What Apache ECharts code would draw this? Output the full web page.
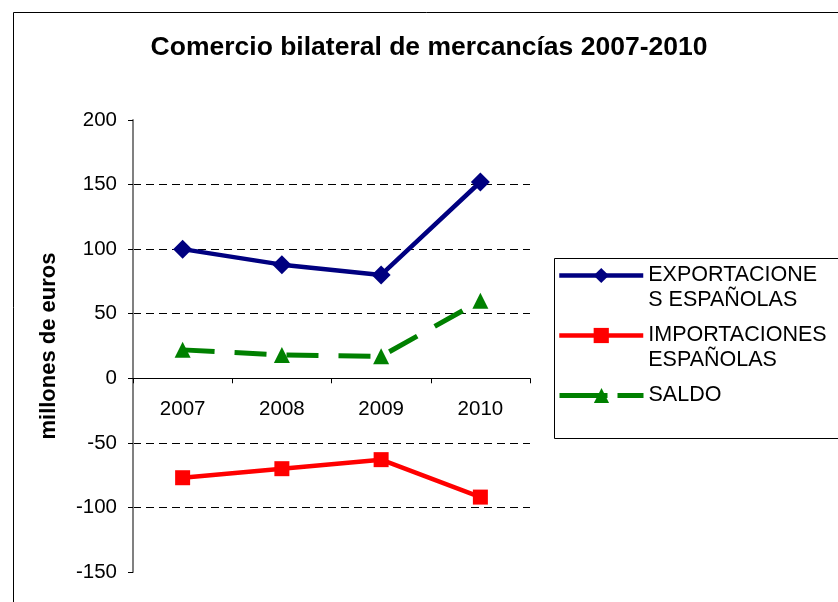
<!DOCTYPE html>
<html>
<head>
<meta charset="utf-8">
<script src="https://cdn.jsdelivr.net/npm/echarts@6/dist/echarts.min.js"></script>
<style>
html, body { margin: 0; padding: 0; background: #fff; }
#chart { width: 838px; height: 602px; }
</style>
</head>
<body>
<div id="chart"></div>
<script>
// datos (millones de euros)
var anios = ['2007', '2008', '2009', '2010'];
var exportaciones = [100, 88, 80, 152];
var importaciones = [-77, -70, -63, -92];
var saldo = [22, 18, 17, 60];

var nomExp = 'EXPORTACIONE\nS ESPAÑOLAS';
var nomImp = 'IMPORTACIONES\nESPAÑOLAS';
var nomSaldo = 'SALDO';

var fuente = "'Liberation Sans', Arial, sans-serif";

// eje y y rejilla
var yMin = -150, yMax = 200;
var gridTop = 120, gridBottom = 30;
var gridAlto = 602 - gridTop - gridBottom;
// el eje de categorias va en el cero, con sus etiquetas debajo
var offsetCero = -gridAlto * (0 - yMin) / (yMax - yMin);

var chart = echarts.init(document.getElementById('chart'));

// una leyenda por serie, para poder colocar cada una donde esta en el original
function leyenda(nombre, top, dosLineas, linea) {
    return {
        data: [nombre],
        left: 557,
        top: top,
        padding: 0,
        orient: 'vertical',
        itemWidth: 84,
        itemHeight: 19,
        itemGap: 0,
        selectedMode: false,
        // linea en blanco delante: asi la primera linea del texto queda a la altura del simbolo
        formatter: dosLineas ? '\n{name}' : '{name}',
        lineStyle: linea,
        textStyle: {
            fontFamily: fuente,
            fontSize: 21.5,
            color: '#000',
            lineHeight: 25
        }
    };
}

var option = {
    animation: false,
    backgroundColor: '#fff',
    title: {
        text: 'Comercio bilateral de mercancías 2007-2010',
        left: 424,
        textAlign: 'center',
        top: 29,
        textStyle: { fontFamily: fuente, fontSize: 26.5, fontWeight: 'bold', color: '#000' }
    },
    graphic: [
        { type: 'rect', left: 11, top: 10, silent: true,
          shape: { width: 900, height: 700 },
          style: { fill: 'none', stroke: '#000', lineWidth: 1 } },
        { type: 'rect', left: 552, top: 256, silent: true,
          shape: { width: 400, height: 180 },
          style: { fill: 'none', stroke: '#000', lineWidth: 1 } }
    ],
    legend: [
        leyenda(nomExp, 238, true, { width: 4.5 }),
        leyenda(nomImp, 298, true, { width: 4.5 }),
        leyenda(nomSaldo, 383, false, { width: 5, type: [48, 10] })
    ],
    grid: { left: 133, right: 308, top: gridTop, bottom: gridBottom, containLabel: false, outerBoundsMode: 'none' },
    xAxis: {
        type: 'category',
        data: anios,
        boundaryGap: true,
        offset: offsetCero,
        axisLine: { onZero: false, lineStyle: { color: '#000', width: 1 } },
        axisTick: { show: true, length: 5, lineStyle: { color: '#000' } },
        axisLabel: { margin: 21, fontFamily: fuente, fontSize: 20.5, color: '#000' },
        splitLine: { show: false }
    },
    yAxis: {
        type: 'value',
        min: yMin,
        max: yMax,
        interval: 50,
        name: 'millones de euros',
        nameLocation: 'middle',
        nameGap: 73,
        nameTextStyle: { fontFamily: fuente, fontSize: 22, fontWeight: 'bold', color: '#000' },
        axisLine: { show: true, lineStyle: { color: '#808080', width: 2 } },
        axisTick: { show: true, length: 5, lineStyle: { color: '#000' } },
        axisLabel: { margin: 16, fontFamily: fuente, fontSize: 20.5, color: '#000' },
        splitLine: {
            show: true,
            showMinLine: false,
            showMaxLine: false,
            lineStyle: { color: '#000', width: 1, type: [8, 5] }
        }
    },
    series: [
        {
            name: nomExp,
            type: 'line',
            data: exportaciones,
            symbol: 'diamond',
            symbolSize: 19,
            itemStyle: { color: '#000080' },
            lineStyle: { color: '#000080', width: 4.5 }
        },
        {
            name: nomImp,
            type: 'line',
            data: importaciones,
            symbol: 'rect',
            symbolSize: 15,
            itemStyle: { color: '#ff0000' },
            lineStyle: { color: '#ff0000', width: 4.5 }
        },
        {
            name: nomSaldo,
            type: 'line',
            data: saldo,
            symbol: 'triangle',
            symbolSize: 16,
            itemStyle: { color: '#008000' },
            lineStyle: { color: '#008000', width: 5, type: [32, 20] }
        }
    ]
};

chart.setOption(option);
</script>
</body>
</html>
